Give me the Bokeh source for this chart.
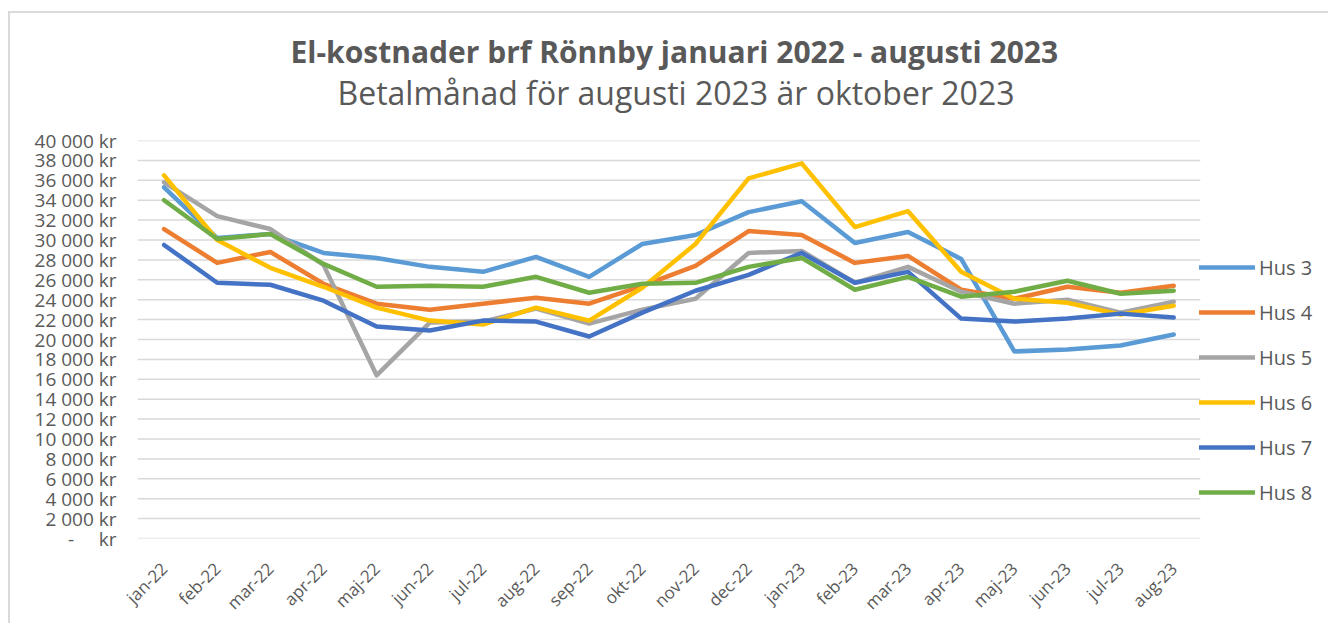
from bokeh.plotting import figure
from bokeh.models import (Range1d, FixedTicker, Legend, LegendItem, Title,
                          ColumnDataSource, CustomJSTickFormatter)
from bokeh.embed import file_html
from bokeh.resources import INLINE
from math import pi

months = ["jan-22", "feb-22", "mar-22", "apr-22", "maj-22", "jun-22", "jul-22",
          "aug-22", "sep-22", "okt-22", "nov-22", "dec-22", "jan-23", "feb-23",
          "mar-23", "apr-23", "maj-23", "jun-23", "jul-23", "aug-23"]

hus3 = [35300, 30200, 30600, 28700, 28200, 27300, 26800, 28300, 26300, 29600,
        30500, 32800, 33900, 29700, 30800, 28100, 18800, 19000, 19400, 20500]
hus4 = [31100, 27700, 28800, 25600, 23600, 23000, 23600, 24200, 23600, 25400,
        27400, 30900, 30500, 27700, 28400, 25000, 24100, 25300, 24700, 25400]
hus5 = [35800, 32400, 31100, 27500, 16400, 21700, 21800, 23100, 21600, 23000,
        24100, 28700, 28900, 25700, 27300, 24800, 23600, 24000, 22700, 23800]
hus6 = [36500, 30000, 27200, 25300, 23200, 21900, 21500, 23200, 21900, 25200,
        29600, 36200, 37700, 31300, 32900, 26800, 24100, 23700, 22500, 23400]
hus7 = [29500, 25700, 25500, 23900, 21300, 20900, 21900, 21800, 20300, 22700,
        24900, 26500, 28700, 25700, 26800, 22100, 21800, 22100, 22600, 22200]
hus8 = [34000, 30100, 30600, 27600, 25300, 25400, 25300, 26300, 24700, 25600,
        25700, 27300, 28200, 25000, 26300, 24300, 24800, 25900, 24600, 24900]

series_names = ["Hus 3", "Hus 4", "Hus 5", "Hus 6", "Hus 7", "Hus 8"]
series_colors = ["#5B9BD5", "#ED7D31", "#A5A5A5", "#FFC000", "#4472C4", "#70AD47"]

y_ticks = list(range(0, 40001, 2000))
y_tick_labels = ["-\u00a0\u00a0\u00a0\u00a0\u00a0kr"] + [
    f"{v // 1000}\u00a0000\u00a0kr" for v in y_ticks[1:]]

title_text = "El-kostnader brf Rönnby januari 2022 - augusti 2023"
subtitle_text = "Betalmånad för augusti 2023 är oktober 2023"

FONT = "Open Sans"
GREY = "#595959"
GRID = "#d9d9d9"

n = len(months)
xpos = [i + 0.5 for i in range(n)]          # category centres
# plot area of the months is 1061 px wide, the frame continues under the legend
frame_w = 1189
x_end = n * frame_w / 1061

p = figure(x_range=Range1d(0, x_end), y_range=Range1d(0, 40000),
           width=1318, height=610, output_backend="svg", toolbar_location=None,
           min_border_left=127, min_border_right=2, min_border_top=127,
           min_border_bottom=83)
p.outline_line_color = None
p.styles = {"border-top": "2px solid #d9d9d9", "border-left": "2px solid #d9d9d9",
            "margin-top": "11px", "margin-left": "8px",
            "box-sizing": "content-box"}

p.xgrid.grid_line_color = None
p.ygrid.grid_line_color = None

# horizontal gridlines over the category area only
p.segment(x0=[0] * len(y_ticks), x1=[n] * len(y_ticks), y0=y_ticks, y1=y_ticks,
          line_color=GRID, line_width=1.5)

p.yaxis.ticker = FixedTicker(ticks=y_ticks)
p.yaxis.major_label_overrides = {t: lab for t, lab in zip(y_ticks, y_tick_labels)}
p.yaxis.axis_line_color = None
p.yaxis.major_tick_line_color = None
p.yaxis.minor_tick_line_color = None
p.yaxis.major_tick_out = 0
p.yaxis.major_label_standoff = 21
p.yaxis.major_label_text_font = FONT
p.yaxis.major_label_text_font_size = "19px"
p.yaxis.major_label_text_color = GREY

p.xaxis.ticker = FixedTicker(ticks=xpos)
p.xaxis.formatter = CustomJSTickFormatter(
    args=dict(labels=months), code="return labels[Math.floor(tick)] || '';")
p.xaxis.axis_line_color = None
p.xaxis.major_tick_line_color = None
p.xaxis.minor_tick_line_color = None
p.xaxis.major_tick_out = 0
p.xaxis.major_label_orientation = pi / 4
p.xaxis.major_label_standoff = 27
p.xaxis.major_label_text_font = FONT
p.xaxis.major_label_text_font_size = "17px"
p.xaxis.major_label_text_color = GREY

items = []
for name, color, vals in zip(series_names, series_colors,
                             [hus3, hus4, hus5, hus6, hus7, hus8]):
    src = ColumnDataSource(dict(x=xpos, y=vals))
    r = p.line("x", "y", source=src, line_color=color, line_width=4.5,
               line_join="round", line_cap="round")
    items.append(LegendItem(label=name, renderers=[r]))

legend = Legend(items=items, location=(1062, 31), padding=0, margin=0,
                spacing=15, glyph_width=56, glyph_height=30, label_height=30,
                label_standoff=4, border_line_color=None,
                background_fill_alpha=0, label_text_font=FONT,
                label_text_font_size="20px", label_text_color=GREY)
p.add_layout(legend)

p.add_layout(Title(text=subtitle_text, align="left", offset=200, text_font=FONT,
                   text_font_size="32px", text_font_style="normal",
                   text_color=GREY, standoff=53), "above")
p.add_layout(Title(text=title_text, align="left", offset=153, text_font=FONT,
                   text_font_size="30px", text_font_style="bold",
                   text_color=GREY, standoff=-59), "above")

open("out.html", "w").write(file_html(p, INLINE))
